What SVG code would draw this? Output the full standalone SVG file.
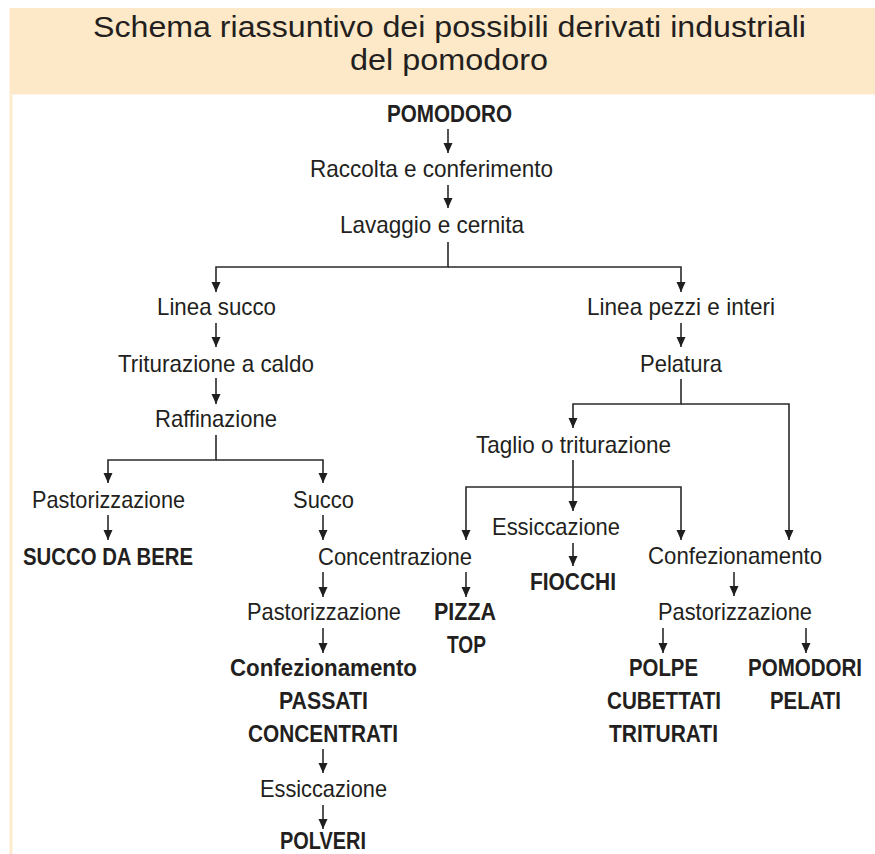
<svg xmlns="http://www.w3.org/2000/svg" width="875" height="854" viewBox="0 0 875 854">
<style>
text{font-family:"Liberation Sans",Arial,sans-serif;fill:#231f20}
.t{font-size:29px}
.r{font-size:24px}
.b{font-size:23px;font-weight:bold}
.c path{fill:none;stroke:#2a2a2a;stroke-width:1.6}
</style>
<defs>
<marker id="ah" viewBox="0 0 10 10" refX="10" refY="5" markerWidth="10" markerHeight="10" markerUnits="userSpaceOnUse" orient="auto">
<path d="M0,0.5 L10,5 L0,9.5 z" fill="#1f1f1f"/>
</marker>
</defs>
<rect width="875" height="854" fill="#ffffff"/>
<g id="header">
<rect x="9.5" y="8" width="865.5" height="86.5" fill="#fde9c8"/>
<rect x="9.5" y="94.5" width="3" height="759.5" fill="#fdebcd"/>
<text class="t" x="93" y="37" textLength="713" lengthAdjust="spacingAndGlyphs">Schema riassuntivo dei possibili derivati industriali</text>
<text class="t" x="350" y="70" textLength="198" lengthAdjust="spacingAndGlyphs">del pomodoro</text>
</g>
<g class="c" id="connectors">
<path d="M448 129V153" marker-end="url(#ah)"/>
<path d="M448 185V208" marker-end="url(#ah)"/>
<path d="M448 242V267H216V292" marker-end="url(#ah)"/>
<path d="M448 267H681V292" marker-end="url(#ah)"/>
<path d="M216 323V347" marker-end="url(#ah)"/>
<path d="M216 378V404" marker-end="url(#ah)"/>
<path d="M216 435V460H108V483" marker-end="url(#ah)"/>
<path d="M216 460H323V483" marker-end="url(#ah)"/>
<path d="M108 515V540" marker-end="url(#ah)"/>
<path d="M323 515V540" marker-end="url(#ah)"/>
<path d="M681 323V347" marker-end="url(#ah)"/>
<path d="M681 379V404H573V428" marker-end="url(#ah)"/>
<path d="M681 404H789V540" marker-end="url(#ah)"/>
<path d="M573 460V511" marker-end="url(#ah)"/>
<path d="M573 487H466V540" marker-end="url(#ah)"/>
<path d="M573 487H681V540" marker-end="url(#ah)"/>
<path d="M573 543V566" marker-end="url(#ah)"/>
<path d="M323 572V597" marker-end="url(#ah)"/>
<path d="M466 572V597" marker-end="url(#ah)"/>
<path d="M734 572V596" marker-end="url(#ah)"/>
<path d="M323 628V653" marker-end="url(#ah)"/>
<path d="M663 628V653" marker-end="url(#ah)"/>
<path d="M806 628V653" marker-end="url(#ah)"/>
<path d="M323 749V773" marker-end="url(#ah)"/>
<path d="M323 805V829" marker-end="url(#ah)"/>
</g>
<g id="n-pomodoro"><text class="b" x="387" y="122" textLength="125" lengthAdjust="spacingAndGlyphs">POMODORO</text></g>
<g id="n-raccolta"><text class="r" x="310" y="177" textLength="243" lengthAdjust="spacingAndGlyphs">Raccolta e conferimento</text></g>
<g id="n-lavaggio"><text class="r" x="340" y="233" textLength="184" lengthAdjust="spacingAndGlyphs">Lavaggio e cernita</text></g>
<g id="n-linea-succo"><text class="r" x="157" y="315" textLength="119" lengthAdjust="spacingAndGlyphs">Linea succo</text></g>
<g id="n-linea-pezzi"><text class="r" x="587" y="315" textLength="188" lengthAdjust="spacingAndGlyphs">Linea pezzi e interi</text></g>
<g id="n-triturazione-caldo"><text class="r" x="118" y="372" textLength="196" lengthAdjust="spacingAndGlyphs">Triturazione a caldo</text></g>
<g id="n-pelatura"><text class="r" x="640" y="372" textLength="82" lengthAdjust="spacingAndGlyphs">Pelatura</text></g>
<g id="n-raffinazione"><text class="r" x="155" y="427" textLength="122" lengthAdjust="spacingAndGlyphs">Raffinazione</text></g>
<g id="n-taglio"><text class="r" x="476" y="453" textLength="195" lengthAdjust="spacingAndGlyphs">Taglio o triturazione</text></g>
<g id="n-pastorizzazione-1"><text class="r" x="32" y="508" textLength="153" lengthAdjust="spacingAndGlyphs">Pastorizzazione</text></g>
<g id="n-succo"><text class="r" x="293" y="508" textLength="61" lengthAdjust="spacingAndGlyphs">Succo</text></g>
<g id="n-essiccazione-1"><text class="r" x="492" y="535" textLength="128" lengthAdjust="spacingAndGlyphs">Essiccazione</text></g>
<g id="n-succo-da-bere"><text class="b" x="23" y="565" textLength="170" lengthAdjust="spacingAndGlyphs">SUCCO DA BERE</text></g>
<g id="n-concentrazione"><text class="r" x="318" y="565" textLength="154" lengthAdjust="spacingAndGlyphs">Concentrazione</text></g>
<g id="n-confezionamento-1"><text class="r" x="648" y="564" textLength="174" lengthAdjust="spacingAndGlyphs">Confezionamento</text></g>
<g id="n-fiocchi"><text class="b" x="530" y="590" textLength="86" lengthAdjust="spacingAndGlyphs">FIOCCHI</text></g>
<g id="n-pastorizzazione-2"><text class="r" x="247" y="620" textLength="154" lengthAdjust="spacingAndGlyphs">Pastorizzazione</text></g>
<g id="n-pizza-top">
<text class="b" x="434" y="620" textLength="62" lengthAdjust="spacingAndGlyphs">PIZZA</text>
<text class="b" x="447" y="653" textLength="39" lengthAdjust="spacingAndGlyphs">TOP</text>
</g>
<g id="n-pastorizzazione-3"><text class="r" x="658" y="620" textLength="154" lengthAdjust="spacingAndGlyphs">Pastorizzazione</text></g>
<g id="n-passati">
<text class="b" x="230" y="676" textLength="187" lengthAdjust="spacingAndGlyphs">Confezionamento</text>
<text class="b" x="279" y="709" textLength="89" lengthAdjust="spacingAndGlyphs">PASSATI</text>
<text class="b" x="248" y="742" textLength="150" lengthAdjust="spacingAndGlyphs">CONCENTRATI</text>
</g>
<g id="n-essiccazione-2"><text class="r" x="260" y="797" textLength="127" lengthAdjust="spacingAndGlyphs">Essiccazione</text></g>
<g id="n-polveri"><text class="b" x="280" y="849" textLength="86" lengthAdjust="spacingAndGlyphs">POLVERI</text></g>
<g id="n-polpe">
<text class="b" x="629" y="676" textLength="69" lengthAdjust="spacingAndGlyphs">POLPE</text>
<text class="b" x="607" y="709" textLength="114" lengthAdjust="spacingAndGlyphs">CUBETTATI</text>
<text class="b" x="609" y="742" textLength="109" lengthAdjust="spacingAndGlyphs">TRITURATI</text>
</g>
<g id="n-pelati">
<text class="b" x="748" y="676" textLength="114" lengthAdjust="spacingAndGlyphs">POMODORI</text>
<text class="b" x="770" y="709" textLength="71" lengthAdjust="spacingAndGlyphs">PELATI</text>
</g>
</svg>
